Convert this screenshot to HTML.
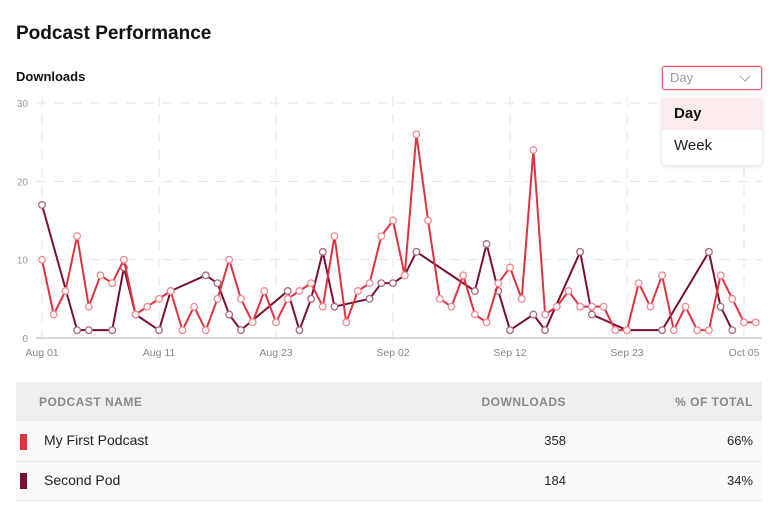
<!DOCTYPE html>
<html><head><meta charset="utf-8"><style>
body{margin:0;width:780px;height:524px;background:#fff;font-family:"Liberation Sans",sans-serif;position:relative;overflow:hidden}
.abs{position:absolute}
table{border-collapse:collapse}
</style></head><body>
<div class="abs" style="left:16px;top:23px;font-size:19px;font-weight:bold;color:#111">Podcast Performance</div>
<div class="abs" style="left:16px;top:69px;font-size:13px;font-weight:bold;color:#111">Downloads</div>
<div class="abs" style="left:662px;top:66px;border:1px solid #e55a64;border-radius:3px;box-shadow:0 0 0 1px #fbd4d7;font-size:13px;color:#999;box-sizing:border-box;width:100px;height:24px;padding:3px 7px">Day<svg style="position:absolute;right:10px;top:8px" width="12" height="8"><polyline points="1,1 6,6 11,1" fill="none" stroke="#aaa" stroke-width="1"/></svg></div>
<div class="abs" style="left:662px;top:96px;width:100px;height:69px;background:#fff;border-radius:4px;box-shadow:0 1px 5px rgba(0,0,0,0.15);z-index:2">
<div style="height:32px;margin-top:2px;background:#fdeced;font-size:15px;font-weight:bold;color:#111;line-height:32px;padding-left:12px">Day</div>
<div style="height:32px;font-size:15px;color:#222;line-height:32px;padding-left:12px">Week</div>
</div>
<svg class="abs" style="left:0;top:0" width="780" height="370" id="chart"></svg>
<div class="abs" style="left:16px;top:382px;width:746px">
<table style="width:746px;font-size:13px;color:#222">
<tr style="background:#efefef;height:39px;color:#888;font-weight:bold;font-size:12px;letter-spacing:0.5px">
<td style="padding-left:23px">PODCAST NAME</td><td style="text-align:right">DOWNLOADS</td><td style="text-align:right;padding-right:9px;width:185px">% OF TOTAL</td></tr>
<tr style="background:#fafafa;height:40px;border-bottom:1px solid #e6e6e6">
<td style="padding-left:4px"><span style="display:inline-block;width:7px;height:16px;background:#e0323f;vertical-align:middle;margin-right:17px"></span><span style="font-size:14px">My First Podcast</span></td><td style="text-align:right">358</td><td style="text-align:right;padding-right:9px">66%</td></tr>
<tr style="background:#fafafa;height:39px;border-bottom:1px solid #e6e6e6">
<td style="padding-left:4px"><span style="display:inline-block;width:7px;height:16px;background:#7a0f33;vertical-align:middle;margin-right:17px"></span><span style="font-size:14px">Second Pod</span></td><td style="text-align:right">184</td><td style="text-align:right;padding-right:9px">34%</td></tr>
</table></div>
<script>
const xLabels=["Aug 01","Aug 11","Aug 23","Sep 02","Sep 12","Sep 23","Oct 05"];
const yTicks=[0,10,20,30];
const redValues=[10,3,6,13,4,8,7,10,3,4,5,6,1,4,1,5,10,5,2,6,2,5,6,7,4,13,2,6,7,13,15,8,26,15,5,4,8,3,2,7,9,5,24,3,4,6,4,4,4,1,1,7,4,8,1,4,1,1,8,5,2,2];
const darkValues=[17,null,null,1,1,null,1,9,3,null,1,6,null,null,8,7,3,1,null,null,null,6,1,5,11,4,null,null,5,7,7,8,11,null,null,null,null,6,12,6,1,null,3,1,null,null,11,3,null,null,1,null,null,1,null,null,null,11,4,1,null,null];
const svg=document.getElementById('chart');const NS='http://www.w3.org/2000/svg';
const X=i=>42+i*11.7, Y=v=>338-v*(235/30);
function mk(t,a,name){const e=document.createElementNS(NS,t);for(const k in a)e.setAttribute(k,a[k]);


svg.appendChild(e);return e;}
yTicks.forEach(v=>{if(v>0)mk('line',{x1:36,x2:762,y1:Y(v),y2:Y(v),stroke:'#e4e4e4','stroke-dasharray':'10 8'},'y-gridline');
const t=mk('text',{x:28,y:Y(v)+4,'text-anchor':'end','font-size':10,fill:'#999'},'y-tick-label');t.textContent=v;});
xLabels.forEach((l,k)=>{const x=X(k*10);mk('line',{x1:x,x2:x,y1:96,y2:343,stroke:'#e4e4e4','stroke-dasharray':'10 8'},'x-gridline');
const t=mk('text',{x:x,y:356,'text-anchor':'middle','font-size':10.5,fill:'#888'},'x-tick-label');t.textContent=l;});
mk('line',{x1:36,x2:762,y1:338,y2:338,stroke:'#ccc','stroke-width':1.5},'x-axis-line');
function series(vals,color,mark,name){let d='';vals.forEach((v,i)=>{if(v===null)return;d+=(d?'L':'M')+X(i)+' '+Y(v);});
mk('path',{d:d,fill:'none',stroke:color,'stroke-width':2,'stroke-linejoin':'round'},name+'-line');
vals.forEach((v,i)=>{if(v===null)return;mk('circle',{cx:X(i),cy:Y(v),r:3.3,fill:'#fff',stroke:mark,'stroke-width':1.3},name+'-point');});}
series(darkValues,'#7a0f33','#a8687f','second-pod');
series(redValues,'#e0323f','#f08a92','my-first-podcast');
</script>
</body></html>
